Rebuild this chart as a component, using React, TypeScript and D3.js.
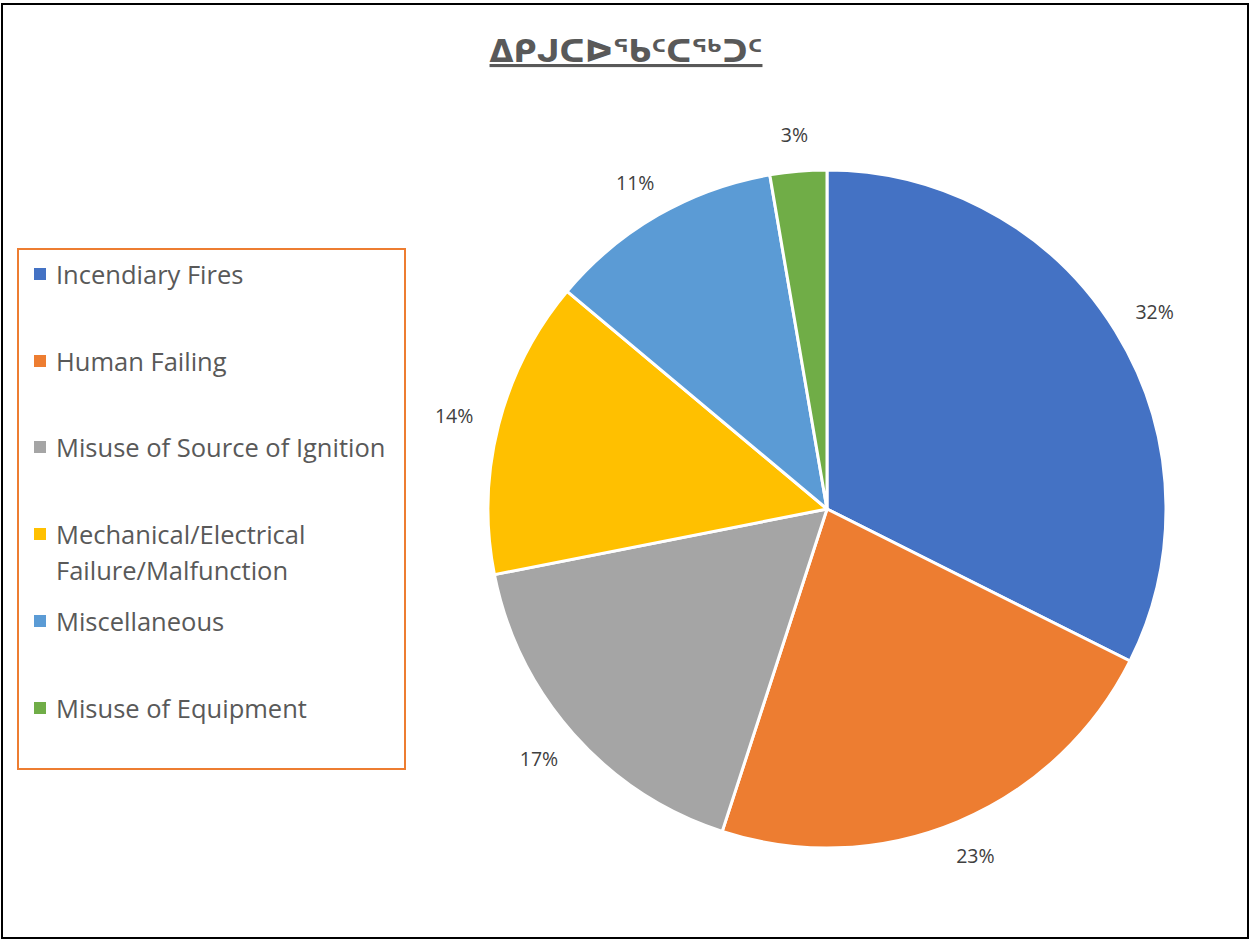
import React from "react";
import * as d3 from "d3";

const title = "ᐃᑭᒍᑕᐅᖃᑦᑕᖅᑐᑦ";
const categories = [
  "Incendiary Fires",
  "Human Failing",
  "Misuse of Source of Ignition",
  "Mechanical/Electrical Failure/Malfunction",
  "Miscellaneous",
  "Misuse of Equipment",
];
const legendLines = [
  ["Incendiary Fires"],
  ["Human Failing"],
  ["Misuse of Source of Ignition"],
  ["Mechanical/Electrical", "Failure/Malfunction"],
  ["Miscellaneous"],
  ["Misuse of Equipment"],
];
const values = [32.4, 22.6, 16.9, 14.2, 11.2, 2.7];
const colors = ["#4472C4", "#ED7D31", "#A5A5A5", "#FFC000", "#5B9BD5", "#70AD47"];

const W = 1250;
const H = 941;
const cx = 827;
const cy = 509;
const R = 339;
const labelPad = 27;
const labelW = 38;
const labelH = 20;

export default function App() {
  const total = d3.sum(values);
  const pie = d3.pie<number>().sort(null).value((d) => d)(values);
  const arc = d3.arc<d3.PieArcDatum<number>>().innerRadius(0).outerRadius(R);
  const legendY = [274, 361, 447, 534, 621, 708];
  return (
    <svg
      width={W}
      height={H}
      style={{ position: "absolute", left: 0, top: 0, background: "#fff" }}
    >
      <rect x={0} y={0} width={W} height={H} fill="#fff" />
      <rect x={2} y={4} width={1246} height={934} fill="none" stroke="#000" strokeWidth={2} />
      <text
        x={626}
        y={62}
        textAnchor="middle"
        fontFamily="DejaVu Sans"
        fontWeight="bold"
        fontSize={31}
        fill="#595959"
        textDecoration="underline"
      >
        {title}
      </text>
      <g transform={`translate(${cx},${cy})`}>
        {pie.map((p, i) => (
          <path key={i} d={arc(p) || ""} fill={colors[i]} stroke="#fff" strokeWidth={3} strokeLinejoin="round" />
        ))}
        {pie.map((p, i) => {
          const a = (p.startAngle + p.endAngle) / 2;
          const s = Math.sin(a);
          const c = -Math.cos(a);
          const x = s * (R + labelPad) + s * (labelW / 2);
          const y = c * (R + labelPad) + c * (labelH / 2);
          return (
            <text
              key={i}
              x={x}
              y={y}
              textAnchor="middle"
              dominantBaseline="central"
              fontFamily="'Open Sans', sans-serif"
              fontSize={19.5}
              fill="#404040"
            >
              {Math.round((values[i] / total) * 100)}%
            </text>
          );
        })}
      </g>
      <rect x={18} y={249} width={387} height={520} fill="none" stroke="#ED7D31" strokeWidth={2} />
      {categories.map((c, i) => (
        <g key={c}>
          <rect x={34} y={legendY[i] - 6} width={12} height={12} fill={colors[i]} />
          {legendLines[i].map((line, j) => (
            <text
              key={j}
              x={56}
              y={legendY[i] + j * 36}
              dominantBaseline="central"
              fontFamily="'Open Sans', sans-serif"
              fontSize={25.5}
              fill="#595959"
            >
              {line}
            </text>
          ))}
        </g>
      ))}
    </svg>
  );
}
